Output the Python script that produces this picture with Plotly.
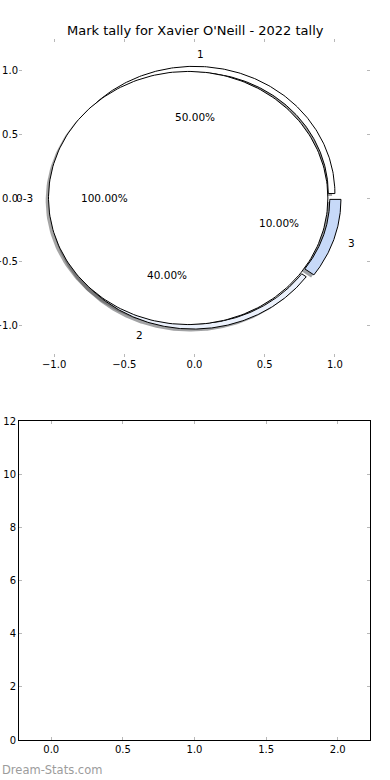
import numpy as np
import plotly.graph_objects as go

# ---------------- data ----------------
title_text = "Mark tally for Xavier O'Neill - 2022 tally"
outer_labels = ["1", "3", "2"]
outer_values = [50, 10, 40]
inner_labels = ["0-3"]
inner_values = [100]
pie_ticks = [-1.0, -0.5, 0.0, 0.5, 1.0]
bar_xticks = [0.0, 0.5, 1.0, 1.5, 2.0]
bar_yticks = [0, 2, 4, 6, 8, 10, 12]
watermark = "Dream-Stats.com"

# ---------------- style ----------------
outer_colors = ["#ffffff", "#c7d9f8", "#ebf1fc"]
inner_colors = ["#ffffff"]
outer_radii = [(0.953, 1.0), (0.93, 1.01), (0.957, 0.997)]
outer_explode = 0.035
inner_radius = 0.995
inner_explode = 0.045
outer_start = 180.0
inner_start = 0.0
shadow_off = (-0.02, -0.02)
FONT = "DejaVu Sans"


def hex_rgb(h):
    h = h.lstrip("#")
    return [int(h[i:i + 2], 16) for i in (0, 2, 4)]


def shadow_color(h):
    r, g, b = [int(0.3 * c) for c in hex_rgb(h)]
    return f"rgba({r},{g},{b},0.5)"


def wedge_path(cx, cy, r_in, r_out, t1, t2, n=240):
    full = abs(abs(t2 - t1) - 360) < 1e-9
    th = np.radians(np.linspace(t1, t2, n))
    xo = cx + r_out * np.cos(th)
    yo = cy + r_out * np.sin(th)
    if full and r_in <= 0:
        return xo, yo
    if r_in <= 0:
        xs = np.concatenate([[cx], xo, [cx]])
        ys = np.concatenate([[cy], yo, [cy]])
        return xs, ys
    xi = cx + r_in * np.cos(th[::-1])
    yi = cy + r_in * np.sin(th[::-1])
    xs = np.concatenate([xo, xi, xo[:1]])
    ys = np.concatenate([yo, yi, yo[:1]])
    return xs, ys


def layout_pie(values, start, clockwise=True):
    tot = float(sum(values))
    segs = []
    a = start
    for v in values:
        span = 360.0 * v / tot
        b = a - span if clockwise else a + span
        segs.append((a, b, (a + b) / 2.0))
        a = b
    return segs


outer_segs = layout_pie(outer_values, outer_start, clockwise=True)
inner_segs = layout_pie(inner_values, inner_start, clockwise=False)

fig = go.Figure()

shapes_list = []
wedges_list = []
texts = []

# outer ring
for i, (lab, v, (a, b, m)) in enumerate(zip(outer_labels, outer_values, outer_segs)):
    cx = outer_explode * np.cos(np.radians(m))
    cy = outer_explode * np.sin(np.radians(m))
    r_in, r_out = outer_radii[i]
    xs, ys = wedge_path(cx, cy, r_in, r_out, a, b)
    shapes_list.append((xs + shadow_off[0], ys + shadow_off[1], shadow_color(outer_colors[i])))
    wedges_list.append((xs, ys, outer_colors[i]))
    lx = cx + 1.1 * 1.0 * np.cos(np.radians(m))
    ly = cy + 1.1 * 1.0 * np.sin(np.radians(m))
    texts.append((lx, ly, lab, "left" if lx > 0 else "right"))
    px = cx + 0.6 * 1.0 * np.cos(np.radians(m))
    py = cy + 0.6 * 1.0 * np.sin(np.radians(m))
    texts.append((px, py, "%.2f%%" % (100.0 * v / sum(outer_values)), "center"))

# inner pie
for i, (lab, v, (a, b, m)) in enumerate(zip(inner_labels, inner_values, inner_segs)):
    cx = inner_explode * np.cos(np.radians(m))
    cy = inner_explode * np.sin(np.radians(m))
    xs, ys = wedge_path(cx, cy, 0, inner_radius, a, b)
    shapes_list.append((xs + shadow_off[0], ys + shadow_off[1], shadow_color(inner_colors[i])))
    wedges_list.append((xs, ys, inner_colors[i]))
    lx = cx + 1.1 * inner_radius * np.cos(np.radians(m))
    ly = cy + 1.1 * inner_radius * np.sin(np.radians(m))
    texts.append((lx, ly, lab, "left" if lx > 0 else "right"))
    px = cx + 0.6 * inner_radius * np.cos(np.radians(m))
    py = cy + 0.6 * inner_radius * np.sin(np.radians(m))
    texts.append((px, py, "%.2f%%" % (100.0 * v / sum(inner_values)), "center"))

for xs, ys, col in shapes_list:
    fig.add_trace(go.Scatter(x=xs, y=ys, mode="lines", fill="toself", fillcolor=col,
                             line=dict(width=0, color="rgba(0,0,0,0)"), hoverinfo="skip",
                             showlegend=False, xaxis="x", yaxis="y"))
for xs, ys, col in wedges_list:
    fig.add_trace(go.Scatter(x=xs, y=ys, mode="lines", fill="toself", fillcolor=col,
                             line=dict(width=1, color="black"), hoverinfo="skip",
                             showlegend=False, xaxis="x", yaxis="y"))

# empty lower axes
fig.add_trace(go.Scatter(x=[], y=[], mode="markers", showlegend=False, xaxis="x2", yaxis="y2"))

annotations = []
for x, y, t, ha in texts:
    annotations.append(dict(x=x, y=y, xref="x", yref="y", text=t, showarrow=False,
                            xanchor=ha, yanchor="middle",
                            font=dict(family=FONT, size=10.5, color="black")))

W, H = 390, 780
ml, mr, mt, mb = 19, 20, 39, 40
pw = W - ml - mr
ph = H - mt - mb
top_bottom_px = 357
bot_top_px = 421
dom_top = [(H - mb - top_bottom_px) / ph, 1.0]
dom_bot = [0.0, (H - mb - bot_top_px) / ph]


def px_to_paper(xp, yp):
    return (xp - ml) / pw, (H - mb - yp) / ph


tx, ty = px_to_paper(195, 30)
annotations.append(dict(x=tx, y=ty, xref="paper", yref="paper",
                        text=title_text, showarrow=False, xanchor="center", yanchor="middle",
                        font=dict(family=FONT, size=13, color="black")))
wx, wy = px_to_paper(0, 770)
annotations.append(dict(x=wx, y=wy, xref="paper", yref="paper", text=watermark,
                        showarrow=False, xanchor="left", yanchor="middle",
                        font=dict(family=FONT, size=11.5, color="#9c9c9c")))

tickc = "#b8b8b8"
common_tick = dict(ticks="inside", ticklen=3, tickwidth=1, tickcolor=tickc,
                   showgrid=False, zeroline=False, automargin=False,
                   tickfont=dict(family=FONT, size=10, color="black"))

fig.update_layout(
    template="none",
    width=W, height=H, margin=dict(l=ml, r=mr, t=mt, b=mb, pad=0),
    paper_bgcolor="white", plot_bgcolor="white",
    showlegend=False,
    xaxis=dict(domain=[0, 1], range=[-1.25, 1.25], anchor="y", tickvals=pie_ticks,
               tickformat=".1f", showline=False, mirror="ticks", **common_tick),
    yaxis=dict(domain=dom_top, range=[-1.25, 1.25], anchor="x", tickvals=pie_ticks,
               tickformat=".1f", showline=False, mirror="ticks", **common_tick),
    xaxis2=dict(domain=[0, 1], range=[-0.225, 2.225], anchor="y2", tickvals=bar_xticks,
                tickformat=".1f", showline=True, linecolor="black", linewidth=1,
                mirror="ticks", **common_tick),
    yaxis2=dict(domain=dom_bot, range=[0, 12], anchor="x2", tickvals=bar_yticks,
                showline=True, linecolor="black", linewidth=1, mirror="ticks",
                **common_tick),
    annotations=annotations,
)

fig.write_html("out.html", config={"displayModeBar": False},
               post_script="document.body.style.margin='0';document.body.style.padding='0';")
